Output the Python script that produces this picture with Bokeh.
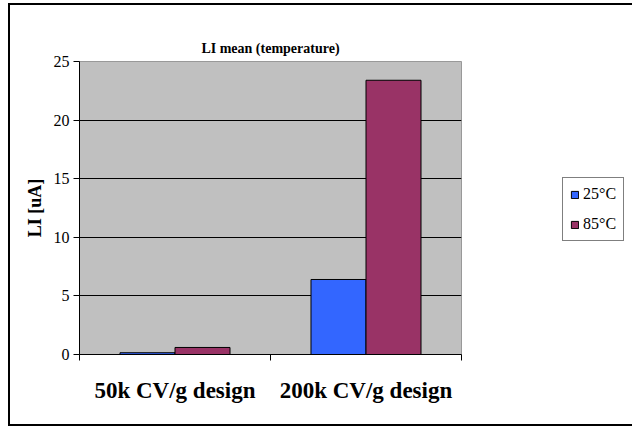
import numpy as np
from bokeh.plotting import figure
from bokeh.models import FixedTicker, Legend, LegendItem, Range1d, ColumnDataSource
from bokeh.embed import file_html
from bokeh.resources import INLINE

categories = ["50k CV/g design", "200k CV/g design"]
series = ["25°C", "85°C"]
li_25 = [0.15, 6.4]
li_85 = [0.6, 23.4]
colors = ["#3366FF", "#993366"]
y_ticks = [0, 5, 10, 15, 20, 25]

FONT = "Liberation Serif"
xs = np.arange(len(categories)) + 0.5
bw = 0.288

p = figure(frame_width=382, frame_height=293,
           min_border_left=69, min_border_right=166, min_border_top=56, min_border_bottom=70,
           x_range=Range1d(0, len(categories)), y_range=Range1d(0, 25),
           output_backend="svg", toolbar_location=None,
           title="LI mean (temperature)")
p.styles = {"border": "2px solid black", "margin-left": "8px", "margin-top": "3px"}
p.background_fill_color = "#C0C0C0"
p.border_fill_color = "white"
p.outline_line_color = "#999999"

p.title.align = "center"
p.title.text_font = FONT
p.title.text_font_size = "14px"
p.title.text_font_style = "bold"
p.title.text_color = "black"
p.title.standoff = 12

src25 = ColumnDataSource(dict(x=xs - bw / 2, top=li_25))
src85 = ColumnDataSource(dict(x=xs + bw / 2, top=li_85))
r1 = p.vbar(x="x", top="top", width=bw, source=src25, fill_color=colors[0], line_color="black", line_width=1)
r2 = p.vbar(x="x", top="top", width=bw, source=src85, fill_color=colors[1], line_color="black", line_width=1)

# y axis
p.yaxis.ticker = FixedTicker(ticks=y_ticks)
p.yaxis.axis_label = "LI [uA]"
p.yaxis.axis_label_text_font = FONT
p.yaxis.axis_label_text_font_size = "18px"
p.yaxis.axis_label_text_font_style = "bold"
p.yaxis.axis_label_text_color = "black"
p.yaxis.axis_label_standoff = 6
p.yaxis.major_label_text_font = FONT
p.yaxis.major_label_text_font_size = "16px"
p.yaxis.major_label_text_color = "black"
p.yaxis.major_tick_out = 6
p.yaxis.major_tick_in = 0
p.yaxis.minor_tick_out = 0
p.yaxis.minor_tick_in = 0
p.yaxis.axis_line_color = "black"
p.yaxis.major_tick_line_color = "black"
p.yaxis.major_label_standoff = 4

# x axis
p.xaxis.ticker = FixedTicker(ticks=list(xs), minor_ticks=list(range(len(categories) + 1)))
p.xaxis.major_label_overrides = {float(x): c for x, c in zip(xs, categories)}
p.xaxis.major_label_text_font = FONT
p.xaxis.major_label_text_font_size = "23px"
p.xaxis.major_label_text_font_style = "bold"
p.xaxis.major_label_text_color = "black"
p.xaxis.major_tick_out = 0
p.xaxis.major_tick_in = 0
p.xaxis.minor_tick_out = 6
p.xaxis.minor_tick_in = 0
p.xaxis.minor_tick_line_color = "black"
p.xaxis.axis_line_color = "black"
p.xaxis.major_label_standoff = 17

p.xgrid.visible = False
p.ygrid.ticker = FixedTicker(ticks=y_ticks[1:-1])
p.ygrid.grid_line_color = "black"
p.ygrid.grid_line_width = 1

legend = Legend(items=[LegendItem(label=series[0], renderers=[r1]),
                       LegendItem(label=series[1], renderers=[r2])],
                location=(101, 113))
legend.label_text_font = FONT
legend.label_text_font_size = "16px"
legend.label_text_color = "black"
legend.glyph_width = 9
legend.glyph_height = 9
legend.border_line_color = "black"
legend.border_line_width = 1
legend.background_fill_color = "white"
legend.background_fill_alpha = 1
legend.padding = 7
legend.spacing = 12
legend.label_standoff = 4
legend.margin = 0
p.add_layout(legend, "right")

open("out.html", "w").write(file_html(p, INLINE))
